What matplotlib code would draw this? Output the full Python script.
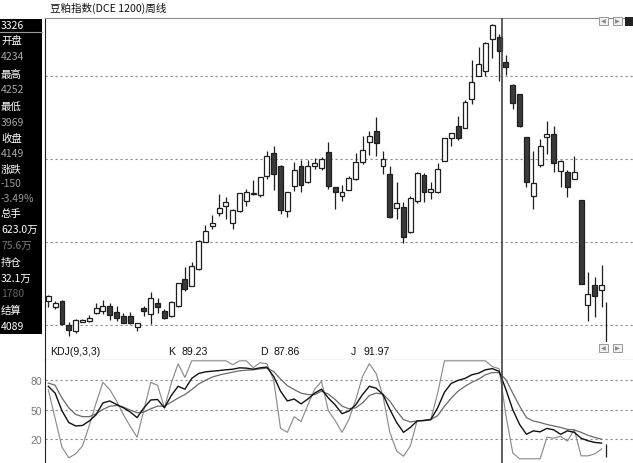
import matplotlib
matplotlib.use("Agg")
import matplotlib.pyplot as plt
from matplotlib.patches import Rectangle
import numpy as np

plt.rcParams["font.family"] = ["Noto Sans CJK SC", "DejaVu Sans"]

# weekly candles
opens = [2639, 2607, 2640, 2499, 2463, 2518, 2524, 2569, 2583, 2610,
         2578, 2553, 2550, 2483, 2599, 2563, 2631, 2581, 2553, 2610,
         2774, 2732, 2834, 2997, 3095, 3170, 3216, 3113, 3184, 3246,
         3284, 3278, 3393, 3535, 3457, 3184, 3334, 3457, 3357, 3452,
         3444, 3541, 3328, 3276, 3312, 3377, 3477, 3601, 3666, 3454,
         3407, 3201, 3206, 3057, 3246, 3399, 3301, 3296, 3484, 3622,
         3694, 3685, 3857, 3995, 4029, 4217, 4234, 4080, 3945, 3889,
         3628, 3276, 3461, 3628, 3648, 3427, 3417, 3377, 3252, 2617,
         2738, 2708]
closes = [2670, 2630, 2503, 2465, 2527, 2529, 2539, 2598, 2610, 2557,
          2537, 2512, 2509, 2507, 2580, 2658, 2607, 2538, 2636, 2749,
          2714, 2852, 3006, 3065, 3110, 3200, 3240, 3192, 3291, 3298,
          3292, 3387, 3513, 3407, 3192, 3300, 3431, 3340, 3455, 3472,
          3494, 3333, 3296, 3301, 3384, 3481, 3550, 3634, 3592, 3499,
          3146, 3234, 3028, 3260, 3410, 3300, 3316, 3437, 3622, 3652,
          3622, 3839, 3959, 4067, 4194, 4303, 4149, 4053, 3833, 3694,
          3360, 3352, 3574, 3648, 3473, 3487, 3327, 3417, 2744, 2684,
          2670, 2738]
highs = [2678, 2643, 2649, 2515, 2533, 2533, 2560, 2628, 2649, 2628,
         2613, 2569, 2577, 2509, 2613, 2698, 2658, 2593, 2642, 2750,
         2845, 2877, 3009, 3099, 3160, 3286, 3266, 3193, 3292, 3316,
         3372, 3389, 3547, 3577, 3458, 3301, 3479, 3493, 3491, 3501,
         3509, 3598, 3331, 3340, 3395, 3532, 3634, 3666, 3750, 3544,
         3452, 3357, 3238, 3276, 3416, 3413, 3357, 3472, 3624, 3654,
         3754, 3852, 4092, 4170, 4202, 4310, 4252, 4121, 3946, 3890,
         3630, 3547, 3617, 3728, 3698, 3488, 3428, 3517, 3253, 2818,
         2784, 2858]
lows = [2607, 2593, 2497, 2429, 2449, 2515, 2513, 2566, 2563, 2527,
        2519, 2509, 2506, 2458, 2554, 2503, 2569, 2533, 2545, 2605,
        2704, 2729, 2831, 2994, 3075, 3155, 3136, 3075, 3178, 3212,
        3283, 3266, 3377, 3313, 3166, 3146, 3306, 3300, 3352, 3437,
        3431, 3319, 3194, 3246, 3310, 3373, 3467, 3524, 3517, 3404,
        3142, 3136, 2991, 3054, 3234, 3236, 3256, 3295, 3482, 3577,
        3614, 3681, 3828, 3994, 3994, 4104, 3969, 4003, 3798, 3687,
        3327, 3196, 3447, 3527, 3417, 3327, 3266, 3374, 2741, 2523,
        2543, 2604]

# KDJ(9,3,3)
k_vals = [74, 67, 49, 37, 33.5, 34, 38.6, 45, 57, 59,
          55.4, 52, 47.7, 42, 52, 60, 60.5, 52, 64.5, 74,
          71, 82, 87, 88.7, 89.4, 90, 90.8, 91.4, 92.8, 92.5,
          91.4, 92.8, 93.5, 84, 69, 59, 61, 56, 61, 67,
          71, 62, 55, 46, 48.7, 55, 65.5, 74, 72, 65.5,
          50.4, 37, 27, 32, 38.6, 39, 40, 52, 68, 77,
          80, 82, 85.7, 87.4, 90.8, 92, 89.23, 70.6, 50, 35,
          25, 28.5, 27.5, 31, 29.5, 25, 28.5, 27, 21, 18.4,
          16.7, 16]
d_vals = [77.3, 75, 62, 52, 45.3, 43, 43, 46, 50.4, 53.7,
          54.4, 52.7, 49.7, 47, 47.7, 51, 53.7, 53.7, 57.8, 62,
          65.5, 70.6, 76.3, 80, 83.4, 85.4, 87, 88.4, 89.8, 90.4,
          90.8, 91.8, 92.5, 89, 81.3, 74.6, 70.6, 67, 65.5, 65.5,
          69, 66, 60.5, 53.7, 51, 52, 57, 64.5, 67, 66,
          58.8, 48.7, 40, 37.6, 38.6, 39.3, 40, 44, 53.7, 62,
          69, 74, 78, 81.3, 85.7, 88, 87.86, 80.7, 67, 53.7,
          42, 38.6, 37, 35, 33.5, 32, 30, 29.5, 27, 24,
          21.8, 20]
j_vals = [70.6, 41, 12, 1, 5, 13, 34, 57, 78, 70.6,
          59, 45, 33, 22, 50, 78, 75, 52, 77, 97,
          83, 100, 100, 100, 100, 100, 100, 96, 100, 100,
          93, 98, 97, 80, 31, 27, 43, 38, 55, 71,
          79, 49, 39, 27, 40, 60, 84, 97, 87, 64,
          27, 8, 2.6, 13, 39, 39, 40, 67, 100, 100,
          100, 100, 100, 100, 100, 94, 91.97, 44, 6, 0,
          0, 0, 0, 22, 21, 23, 18, 30, 3, 3,
          5, 10]

title = "豆粕指数(DCE 1200)周线"
price_grid = [2500, 3000, 3500, 4000]
kdj_grid = [20, 50, 80]
kdj_name = "KDJ(9,3,3)"
kdj_names = ["K", "D", "J"]
kdj_now = ["89.23", "87.86", "91.97"]
cursor_x = 66.45
tail_x = 81.6
tail_price = 2637
tail_kdj = (2, 15)

side_text = ["3326", "开盘", "4234", "最高", "4252", "最低", "3969", "收盘", "4149",
             "涨跌", "-150", "-3.49%", "总手", "623.0万", "75.6万", "持仓", "32.1万",
             "1780", "结算", "4089"]
side_color = ["w", "w", "#a8a8a8", "w", "#a8a8a8", "w", "#a8a8a8", "w", "#a8a8a8",
              "w", "#9a9a9a", "#9a9a9a", "w", "w", "#7a7a7a", "w", "w",
              "#666666", "w", "w"]
side_y = [26, 41, 57.5, 74.5, 90.5, 106.5, 122.5, 138.5, 154, 170, 184, 199.5,
          214.5, 230, 246, 262.5, 278.5, 294.5, 310.5, 326.5]

W, H = 633, 464
fig = plt.figure(figsize=(W / 100, H / 100), dpi=100)


def box(x0, y0, x1, y1):
    return [x0 / W, 1 - y1 / H, (x1 - x0) / W, (y1 - y0) / H]


ax = fig.add_axes(box(44.5, 19, 633, 343))
hdr = fig.add_axes(box(44.5, 343, 633, 361))
kd = fig.add_axes(box(44.5, 361, 633, 464))
xlim = (-0.556, 85.6)

# ---- candles
x = np.arange(len(opens))
o = np.array(opens, float)
c = np.array(closes, float)
up = c >= o
bot = np.minimum(o, c)
ht = np.maximum(np.abs(c - o), 5)

ax.vlines(x, lows, highs, color="#1e1e1e", lw=0.9, zorder=2)
ax.bar(x[up], ht[up], bottom=bot[up], width=0.72, color="white",
       edgecolor="#1e1e1e", linewidth=0.9, zorder=3)
ax.bar(x[~up], ht[~up], bottom=bot[~up], width=0.72, color="#3a3a3a",
       edgecolor="#1e1e1e", linewidth=0.9, zorder=3)
for p in price_grid:
    ax.axhline(p, color="#8a8a8a", lw=0.8, ls=(0, (2, 2.5)), zorder=1)
ax.vlines(tail_x, 2300, tail_price, color="#1e1e1e", lw=0.9)
ax.set_xlim(*xlim)
ax.set_ylim(2394.6, 4346.4)
ax.set_xticks([])
ax.set_yticks([])
for s in ["right", "bottom"]:
    ax.spines[s].set_visible(False)
ax.spines["top"].set_color("#8a8a8a")
ax.spines["left"].set_color("#222222")

# ---- KDJ header
hdr.set_xlim(0, W - 44.5)
hdr.set_ylim(0, 1)
hdr.set_xticks([])
hdr.set_yticks([])
for s in ["right", "top"]:
    hdr.spines[s].set_visible(False)
hdr.spines["bottom"].set_color("#555555")
hdr.spines["left"].set_color("#222222")
hfont = dict(family=["Liberation Sans", "DejaVu Sans"], fontsize=7.6, va="center", color="#111111")
hdr.text(50 - 44.5, 0.5, kdj_name, **hfont)
for name, val, px in zip(kdj_names, kdj_now, [168, 260, 351]):
    hdr.text(px - 44.5, 0.5, name, **hfont)
    hdr.text(px - 44.5 + 13, 0.5, val, **hfont)

# ---- KDJ lines
kd.plot(x, j_vals, color="#8c8c8c", lw=0.85, zorder=3)
kd.plot(x, d_vals, color="#6a6a6a", lw=0.9, zorder=3)
kd.plot(x, k_vals, color="#111111", lw=1.0, zorder=4)
for lv in kdj_grid:
    kd.axhline(lv, color="#8a8a8a", lw=0.8, ls=(0, (2, 2.5)), zorder=1)
kd.vlines(tail_x, tail_kdj[0], tail_kdj[1], color="#1e1e1e", lw=0.9)
kd.set_xlim(*xlim)
kd.set_ylim(-4.3, 100.8)
kd.set_xticks([])
kd.set_yticks(kdj_grid)
kd.set_yticklabels([str(v) for v in kdj_grid], color="#777777", fontsize=7.5,
                   family=["Liberation Sans", "DejaVu Sans"])
kd.tick_params(axis="y", length=0, pad=1.5)
for s in ["right", "top", "bottom"]:
    kd.spines[s].set_visible(False)
kd.spines["left"].set_color("#222222")

# crosshair through both panels
for a in (ax, hdr, kd):
    pass
ax.axvline(cursor_x, color="#444444", lw=1.2, zorder=5)
kd.axvline(cursor_x, color="#444444", lw=1.2, zorder=5)
hx = 48.3 + 6.83 * cursor_x - 44.5
hdr.axvline(hx, color="#444444", lw=1.2)

# ---- title
fig.text(50 / W, 1 - 8.5 / H, title, fontsize=7.6, ha="left", va="center", color="#111111")

# ---- left info panel
fig.add_artist(Rectangle((0, 1 - 335 / H), 42 / W, 315 / H, transform=fig.transFigure,
                         facecolor="black", edgecolor="none"))
fig.add_artist(plt.Line2D([0, 42 / W], [1 - 33 / H, 1 - 33 / H], transform=fig.transFigure,
                          color="#9a9a9a", lw=0.8))
for t, col, py in zip(side_text, side_color, side_y):
    fig.text(1 / W, 1 - py / H, t, fontsize=7.5, ha="left", va="center", color=col)

# ---- small scroll buttons
def button(x0, y0, sym):
    fig.add_artist(Rectangle((x0 / W, 1 - (y0 + 8) / H), 9 / W, 8 / H, transform=fig.transFigure,
                             facecolor="#f2f2f2", edgecolor="#9a9a9a", lw=0.7))
    fig.text((x0 + 4.5) / W, 1 - (y0 + 4) / H, sym, fontsize=4.5, ha="center", va="center",
             color="#8a8a8a", family="DejaVu Sans")


button(599, 18, "◀")
button(613, 18, "▶")
fig.add_artist(Rectangle((625 / W, 1 - 27 / H), 8 / W, 9 / H, transform=fig.transFigure,
                         facecolor="#222222", edgecolor="none"))
button(599, 345, "◀")
button(613, 345, "▶")

fig.savefig("out.png", dpi=100)
